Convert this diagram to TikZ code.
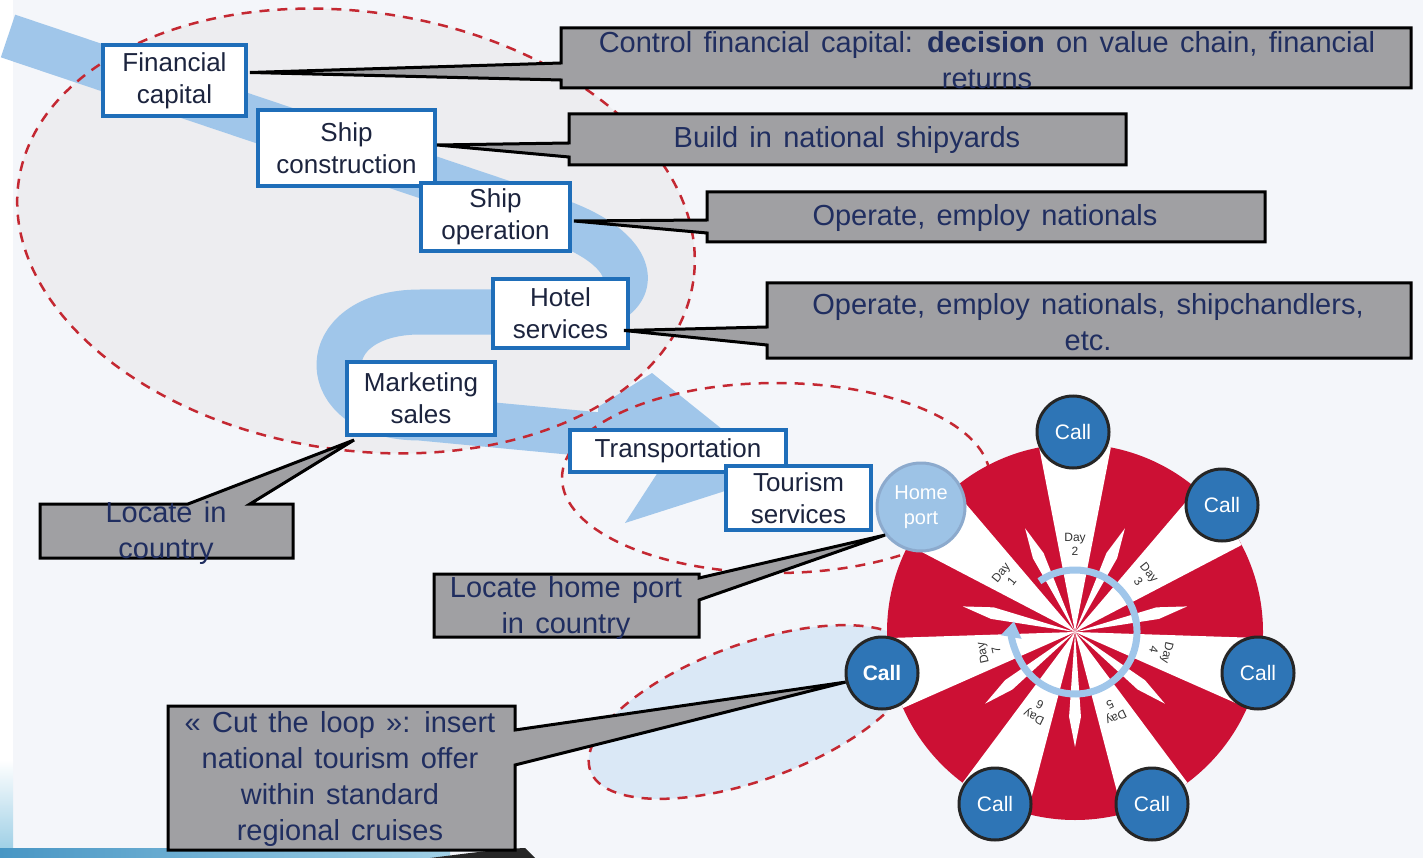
\documentclass[tikz,border=0pt]{standalone}
\usepackage{fontspec}
\setmainfont{Liberation Sans}
\newfontfamily\cfont{Liberation Sans}[WordSpace=1.4]
\usetikzlibrary{arrows.meta,calc}
\definecolor{bg}{RGB}{244,246,250}
\definecolor{ellgray}{RGB}{237,237,240}
\definecolor{dashred}{RGB}{196,40,50}
\definecolor{ribbon}{RGB}{160,198,234}
\definecolor{boxblue}{RGB}{31,110,185}
\definecolor{boxtext}{RGB}{28,36,62}
\definecolor{calltext}{RGB}{32,46,96}
\definecolor{callgray}{RGB}{160,160,163}
\definecolor{wheelred}{RGB}{204,16,52}
\definecolor{callblue}{RGB}{46,117,182}
\definecolor{homeblue}{RGB}{157,195,230}
\definecolor{homeborder}{RGB}{140,170,205}
\definecolor{ellblue}{RGB}{218,232,246}
\definecolor{tealA}{RGB}{72,150,196}
\definecolor{tealB}{RGB}{160,208,230}
\begin{document}
\begin{tikzpicture}[x=1pt,y=-1pt,
  vbox/.style={draw=boxblue, line width=4pt, fill=white, align=center, text=boxtext, font=\fontsize{26}{32}\selectfont, inner sep=0pt},
  ctext/.style={align=center, text=calltext, font=\cfont\fontsize{29}{36}\selectfont, inner sep=0pt},
  callout/.style={fill=callgray, draw=black, line width=3pt, line join=miter},
  anchorbox/.style={inner sep=0pt, outer sep=0pt},
  dashell/.style={draw=dashred, line width=2.5pt, dash pattern=on 10pt off 8pt},
  callnode/.style={circle, fill=callblue, draw=black!85, line width=3pt, minimum size=72pt, inner sep=0pt, text=white, font=\fontsize{21}{24}\selectfont},
  daylab/.style={align=center, font=\fontsize{12}{14}\selectfont, text=black!80, inner sep=0pt}
]
\useasboundingbox (0,0) rectangle (1423,858);
% background
\fill[bg] (0,0) rectangle (1423,858);
\fill[white] (0,0) rectangle (13,760);
\shade[top color=white, bottom color=tealB] (0,760) rectangle (13,848);
\shade[left color=tealA, right color=tealB] (0,848) rectangle (450,858);
\fill[black!85] (430,858) .. controls (470,853) and (500,849) .. (525,848) -- (535,858) -- cycle;
% filled ellipses
\fill[ellgray, rotate around={-8.5:(356,231)}] (356,231) ellipse (341 and 219);
\fill[ellblue, rotate around={20:(752,712)}] (752,712) ellipse (172 and 68);
% ribbon arrow
\draw[ribbon, line width=45pt, line join=round] (8,36) -- (555,220) .. controls (648,252) and (648,310) .. (560,312) -- (420,312) .. controls (312,312) and (312,418) .. (420,418) -- (600,435);
\fill[ribbon] (598,407) -- (652,373) -- (778,474) -- (625,523) -- (662,466) -- (598,459) -- cycle;
% dashed outlines
\draw[dashell, rotate around={-8.5:(356,231)}] (356,231) ellipse (341 and 219);
\draw[dashell] (776,478) ellipse (214 and 95);
\draw[dashell, rotate around={20:(752,712)}] (752,712) ellipse (172 and 68);
% wheel
\begin{scope}[shift={(1075,632)}, yscale=-1]
  \fill[wheelred] (0,0) circle[radius=188];
  \foreach \k in {0,...,6}{
    \pgfmathsetmacro\a{90-\k*360/7}
    \pgfmathsetmacro\b{\a-180/7}
    \fill[white] (0,0) -- ({\a-11}:188) arc[start angle={\a-11}, end angle={\a+11}, radius=188] -- cycle;
    \fill[white] (0,0) -- ({\b-4}:85) -- (\b:115) -- ({\b+4}:85) -- cycle;
  }
  \foreach \n in {1,...,7}{
    \pgfmathsetmacro\a{90-(\n-2)*360/7}
    \pgfmathsetmacro\r{\a-90}
    \node[daylab, rotate=\r] at (\a:88) {Day\\\n};
  }
  \draw[ribbon, line width=7pt, -{Triangle[length=16pt,width=20pt]}] (125:62) arc[start angle=125, end angle=-190, radius=62];
\end{scope}
% value chain boxes
\node[vbox, minimum width=143pt, minimum height=71pt] (fin) at (174.5,80.5) {Financial\\capital};
\node[vbox, minimum width=177pt, minimum height=76pt] (con) at (346.5,148) {Ship\\construction};
\node[vbox, minimum width=149pt, minimum height=68pt] (ope) at (495.5,217) {Ship\\operation};
\node[vbox, minimum width=135pt, minimum height=69pt] (hot) at (560.5,313.5) {Hotel\\services};
\node[vbox, minimum width=148pt, minimum height=73pt] (mar) at (421,398.5) {Marketing\\sales};
\node[vbox, minimum width=216pt, minimum height=42pt] (tra) at (678,451) {Transportation};
\node[vbox, minimum width=145pt, minimum height=64pt] (tou) at (798.5,498) {Tourism\\services};
% calls
\node[callnode] (ca1) at (1073,432) {Call};
\node[callnode] (ca2) at (1222,505) {Call};
\node[callnode] (ca3) at (1258,673) {Call};
\node[callnode] (ca4) at (1152,804) {Call};
\node[callnode] (ca5) at (995,804) {Call};
\node[callnode, font=\fontsize{21}{24}\selectfont\bfseries] (cl) at (882,673) {Call};
\node[circle, fill=homeblue, draw=homeborder, line width=3pt, minimum size=88pt, inner sep=0pt, align=center, text=white, font=\fontsize{20}{25}\selectfont] (home) at (921,507) {Home\\port};
% callout frames
\node[anchorbox, minimum width=850pt, minimum height=60pt] (k1) at (986,58) {};
\node[anchorbox, minimum width=557pt, minimum height=51pt] (k2) at (847.5,139.5) {};
\node[anchorbox, minimum width=558pt, minimum height=50pt] (k3) at (986,217) {};
\node[anchorbox, minimum width=644pt, minimum height=75pt] (k4) at (1089,320.5) {};
\node[anchorbox, minimum width=253pt, minimum height=54pt] (k5) at (166.5,531) {};
\node[anchorbox, minimum width=265pt, minimum height=63pt] (k6) at (566.5,605.5) {};
\node[anchorbox, minimum width=347pt, minimum height=144pt] (k7) at (341.5,778) {};
\path[callout] (k1.north west) -- (k1.north east) -- (k1.south east) -- (k1.south west) -- ($(k1.south west)+(0,-8)$) -- ($(fin.east)+(2,-8)$) -- ($(k1.north west)+(0,35)$) -- cycle;
\path[callout] (k2.north west) -- (k2.north east) -- (k2.south east) -- (k2.south west) -- ($(k2.south west)+(0,-8)$) -- ($(con.east)+(0,-3)$) -- ($(k2.north west)+(0,29)$) -- cycle;
\path[callout] (k3.north west) -- (k3.north east) -- (k3.south east) -- (k3.south west) -- ($(k3.south west)+(0,-9)$) -- ($(ope.east)+(2,4)$) -- ($(k3.north west)+(0,28)$) -- cycle;
\path[callout] (k4.north west) -- (k4.north east) -- (k4.south east) -- (k4.south west) -- ($(k4.south west)+(0,-13)$) -- ($(hot.east)+(-6,17)$) -- ($(k4.north west)+(0,44)$) -- cycle;
\path[callout] (k5.north west) -- ($(k5.north west)+(148,0)$) -- ($(mar.south west)+(9,3)$) -- ($(k5.north west)+(210,0)$) -- (k5.north east) -- (k5.south east) -- (k5.south west) -- cycle;
\path[callout] (k6.north west) -- (k6.north east) -- ($(k6.north east)+(0,4)$) -- (home.218) -- ($(k6.south east)+(0,-37)$) -- (k6.south east) -- (k6.south west) -- cycle;
\path[callout] (k7.north west) -- (k7.north east) -- ($(k7.north east)+(0,24)$) -- (cl.194) -- ($(k7.south east)+(0,-85)$) -- (k7.south east) -- (k7.south west) -- cycle;
% callout texts
\node[ctext] (t1) at (987,60) {Control financial capital: \textbf{decision} on value chain, financial\\returns};
\node[ctext] (t2) at (847,140) {Build in national shipyards};
\node[ctext] (t3) at (985,218) {Operate, employ nationals};
\node[ctext] (t4) at (1088,322) {Operate, employ nationals, shipchandlers,\\etc.};
\node[ctext] (t5) at (166,533) {Locate in\\country};
\node[ctext] (t6) at (566,608) {Locate home port\\in country};
\node[ctext] (t7) at (340,779) {« Cut the loop »: insert\\national tourism offer\\within standard\\regional cruises};
\end{tikzpicture}
\end{document}
